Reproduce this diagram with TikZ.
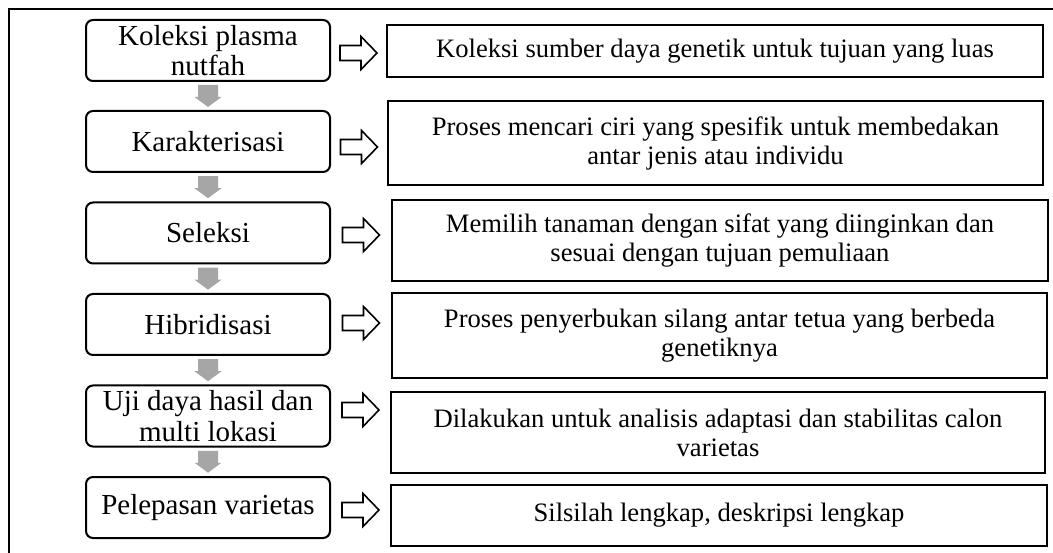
\documentclass[tikz,border=0pt]{standalone}
\usepackage{fontspec}
\setmainfont{Liberation Serif}
\usetikzlibrary{calc}
\definecolor{arrowgray}{HTML}{A6A6A6}

\begin{document}
\begin{tikzpicture}[x=1pt,y=-1pt]\tikzstyle{every node} = [align=center, inner sep=0pt]
      \tikzstyle{tahap} = [draw, line width=2pt, rounded corners=7pt, minimum width=244pt, minimum height=61pt, font=\fontsize{29}{30.5}\selectfont]
      \tikzstyle{ket} = [draw, line width=2pt, font=\fontsize{26.6}{29}\selectfont]
      \useasboundingbox (0,0) rectangle (1053,553);
      \draw[line width=1.7pt] (9,553) -- (9,9) -- (1053,9);

      \node[tahap] (t1) at (208,50.5)  {Koleksi plasma\\nutfah};
      \node[tahap] (t2) at (208,141.5) {Karakterisasi};
      \node[tahap] (t3) at (208,233)   {Seleksi};
      \node[tahap] (t4) at (208,324.5) {Hibridisasi};
      \node[tahap] (t5) at (208,416)   {Uji daya hasil dan\\multi lokasi};
      \node[tahap] (t6) at (208,507.5) {Pelepasan varietas};

      \node[ket, minimum width=656pt, minimum height=52pt] (k1) at (715,51)    {Koleksi sumber daya genetik untuk tujuan yang luas};
      \node[ket, minimum width=655pt, minimum height=84pt] (k2) at (715.5,143) {Proses mencari ciri yang spesifik untuk membedakan\\antar jenis atau individu};
      \node[ket, minimum width=656pt, minimum height=81pt] (k3) at (720,240.5) {Memilih tanaman dengan sifat yang diinginkan dan\\sesuai dengan tujuan pemuliaan};
      \node[ket, minimum width=655pt, minimum height=85pt] (k4) at (719.5,335.5) {Proses penyerbukan silang antar tetua yang berbeda\\genetiknya};
      \node[ket, minimum width=654pt, minimum height=81pt] (k5) at (718,432.5) {Dilakukan untuk analisis adaptasi dan stabilitas calon\\varietas};
      \node[ket, minimum width=656pt, minimum height=61pt] (k6) at (719,515.5) {Silsilah lengkap, deskripsi lengkap};

      % panah abu-abu antar tahap
      \foreach \a/\b in {t1/t2,t2/t3,t3/t4,t4/t5,t5/t6}
        \fill[arrowgray] ($(\a.south)!0.5!(\b.north)+(-10,-11)$) -- ++(20,0) -- ++(0,12) -- ++(3.5,0)
          -- ++(-13.5,10) -- ++(-13.5,-10) -- ++(3.5,0) -- cycle;

      % panah putih ke keterangan
      \foreach \a/\b/\dy in {t1/k1/2.5,t2/k2/5.5,t3/k3/2,t4/k4/-1.5,t5/k5/-6,t6/k6/2.5}
        \draw[line width=1.6pt] ($(\a.east)!0.5!(\a.east -| \b.west)+(-18.5,\dy-7.5)$) -- ++(21,0) -- ++(0,-9)
          -- ++(16,16.5) -- ++(-16,16.5) -- ++(0,-9) -- ++(-21,0) -- cycle;
    \end{tikzpicture}
\end{document}
